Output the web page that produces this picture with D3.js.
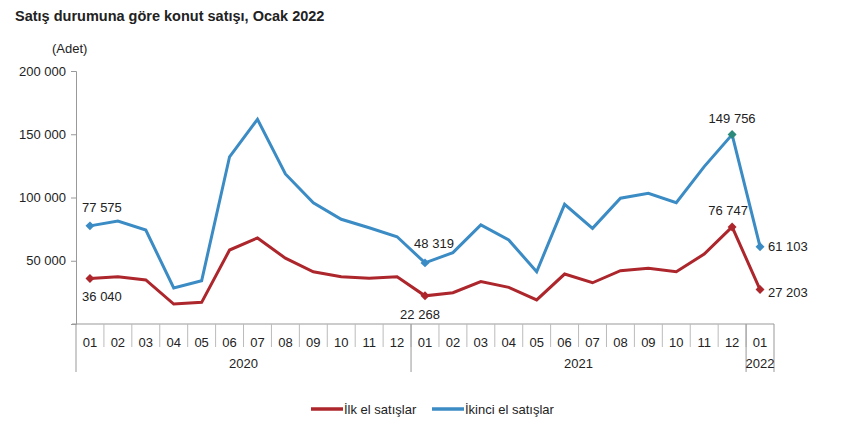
<!DOCTYPE html>
<html>
<head>
<meta charset="utf-8">
<script src="https://cdn.jsdelivr.net/npm/d3@7"></script>
<style>
body { margin: 0; background: #fff; }
text { font-family: "Liberation Sans", Arial, sans-serif; fill: #222; }
</style>
</head>
<body>
<div id="chart"></div>
<script>
// data
var months = ["01","02","03","04","05","06","07","08","09","10","11","12",
              "01","02","03","04","05","06","07","08","09","10","11","12","01"];
var years = [{label: "2020", start: 0, n: 12}, {label: "2021", start: 12, n: 12}, {label: "2022", start: 24, n: 1}];
var ilkEl = [36040, 37400, 34800, 15800, 17100, 58500, 68000, 52000, 41300, 37400, 36100, 37400,
             22268, 24700, 33500, 29000, 19000, 39500, 32600, 42100, 44000, 41300, 55300, 76747, 27203];
var ikinciEl = [77575, 81400, 74300, 28500, 34200, 132200, 161800, 118600, 95900, 82800, 76100, 69000,
                48319, 56400, 78300, 66400, 41300, 94600, 75600, 99400, 103300, 95900, 124400, 149756, 61103];
var yTicks = [0, 50000, 100000, 150000, 200000];
var marked = [0, 12, 23, 24];

var svgwidth = 851, svgheight = 432;
var margin = {top: 71, left: 76, right: 77, bottom: 108};
var width = svgwidth - margin.left - margin.right;
var height = svgheight - margin.top - margin.bottom;

var red = "#ac262c", blue = "#3b8bc4", teal = "#2b8a7b";
var fs = 13;
var fmt = function(v) { return d3.format(",")(v).replace(/,/g, " "); };

var svg = d3.select("#chart").append("svg").attr("width", svgwidth).attr("height", svgheight);
svg.append("text").attr("x", 15).attr("y", 21).attr("font-size", 14.5).attr("font-weight", "bold")
   .text("Satış durumuna göre konut satışı, Ocak 2022");
svg.append("text").attr("x", 52).attr("y", 53).attr("font-size", fs).text("(Adet)");

var g = svg.append("g").attr("transform", `translate(${margin.left}, ${margin.top})`);

var x = d3.scaleBand().domain(d3.range(months.length)).range([0, width]);
var y = d3.scaleLinear().domain([0, 200000]).range([height, 0]);

// y axis
var yAxis = g.append("g").call(d3.axisLeft(y).tickValues(yTicks).tickSize(5).tickFormat(function(d) { return d === 0 ? "" : fmt(d); }));
yAxis.select(".domain").attr("stroke", "#999");
yAxis.selectAll(".tick line").attr("stroke", "#999");
yAxis.selectAll(".tick text").attr("font-size", fs).attr("font-family", "Liberation Sans, Arial, sans-serif").attr("fill", "#222").attr("dx", -2);

// x axis with month and year rows
var ax = g.append("g").attr("transform", `translate(0, ${height})`);
ax.append("line").attr("x1", -4).attr("x2", width).attr("stroke", "#999");
ax.selectAll(".msep").data(d3.range(1, months.length)).enter().append("line")
  .attr("x1", d => x(d)).attr("x2", d => x(d)).attr("y1", 0).attr("y2", 23).attr("stroke", "#bbb");
ax.selectAll(".ysep").data([0, 12, 24, 25]).enter().append("line")
  .attr("x1", d => d < 25 ? x(d) : width).attr("x2", d => d < 25 ? x(d) : width)
  .attr("y1", 0).attr("y2", 48).attr("stroke", "#999");
ax.selectAll(".mlab").data(months).enter().append("text")
  .attr("x", (d, i) => x(i) + x.bandwidth() / 2).attr("y", 23).attr("text-anchor", "middle").attr("font-size", fs).text(d => d);
ax.selectAll(".ylab").data(years).enter().append("text")
  .attr("x", d => x(d.start) + d.n * x.bandwidth() / 2).attr("y", 44).attr("text-anchor", "middle").attr("font-size", fs).text(d => d.label);

// lines
var line = d3.line().x((d, i) => x(i) + x.bandwidth() / 2).y(d => y(d));
g.append("path").datum(ikinciEl).attr("fill", "none").attr("stroke", blue).attr("stroke-width", 3).attr("d", line);
g.append("path").datum(ilkEl).attr("fill", "none").attr("stroke", red).attr("stroke-width", 3).attr("d", line);

// diamond markers = rotated squares
var diamond = d3.symbol().type(d3.symbolSquare).size(40);
g.selectAll(".mb").data(marked).enter().append("path")
  .attr("transform", i => `translate(${x(i) + x.bandwidth() / 2}, ${y(ikinciEl[i])}) rotate(45)`)
  .attr("d", diamond).attr("fill", i => i === 23 ? teal : blue);
g.selectAll(".mr").data(marked).enter().append("path")
  .attr("transform", i => `translate(${x(i) + x.bandwidth() / 2}, ${y(ilkEl[i])}) rotate(45)`)
  .attr("d", diamond).attr("fill", red);

// value labels
var cx = i => x(i) + x.bandwidth() / 2;
var labels = [
  {i: 0, v: ikinciEl[0], dx: 12, dy: -14, anchor: "middle"},
  {i: 0, v: ilkEl[0], dx: 12, dy: 23, anchor: "middle"},
  {i: 12, v: ikinciEl[12], dx: 9, dy: -15, anchor: "middle"},
  {i: 12, v: ilkEl[12], dx: -5, dy: 23, anchor: "middle"},
  {i: 23, v: ikinciEl[23], dx: 0, dy: -12, anchor: "middle"},
  {i: 23, v: ilkEl[23], dx: -4, dy: -12, anchor: "middle"},
  {i: 24, v: ikinciEl[24], dx: 8, dy: 4, anchor: "start"},
  {i: 24, v: ilkEl[24], dx: 8, dy: 7, anchor: "start"}
];
g.selectAll(".vl").data(labels).enter().append("text")
  .attr("x", d => cx(d.i) + d.dx).attr("y", d => y(d.v) + d.dy)
  .attr("text-anchor", d => d.anchor).attr("font-size", fs).text(d => fmt(d.v));

// legend
var legend = svg.append("g").attr("transform", "translate(311, 409)");
[{name: "İlk el satışlar", color: red, x: 0}, {name: "İkinci el satışlar", color: blue, x: 121}].forEach(function(s) {
  legend.append("line").attr("x1", s.x).attr("x2", s.x + 32).attr("stroke", s.color).attr("stroke-width", 3.5);
  legend.append("text").attr("x", s.x + 33).attr("y", 4.5).attr("font-size", fs).text(s.name);
});
</script>
</body>
</html>
